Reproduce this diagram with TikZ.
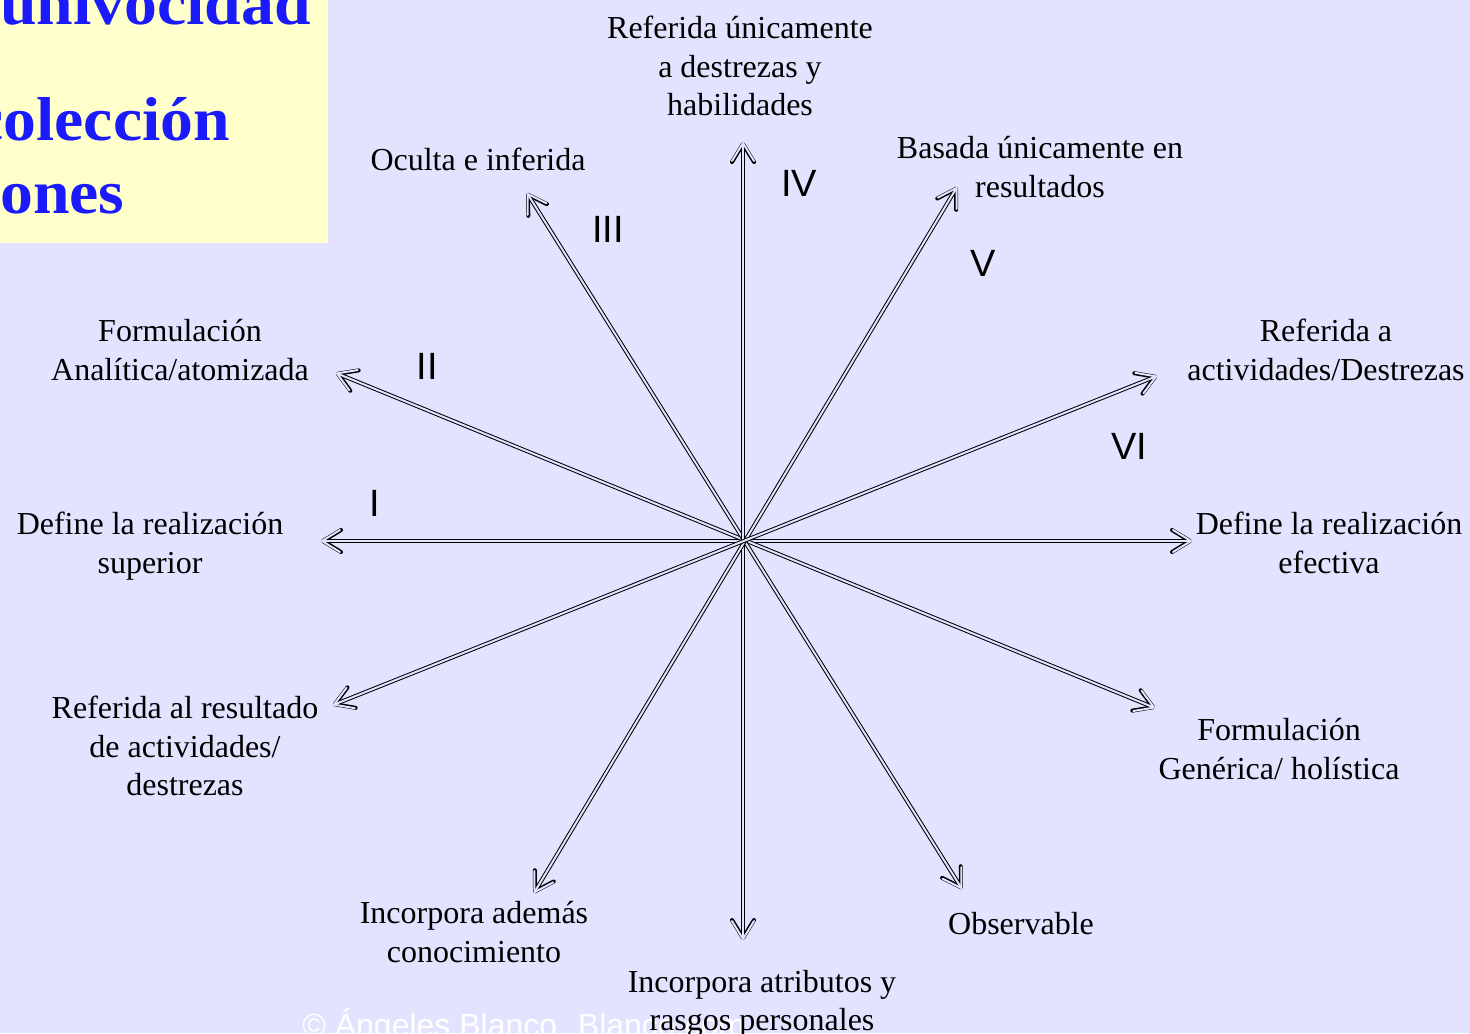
\documentclass[tikz,border=0pt]{standalone}
\usepackage{fontspec}
\setmainfont{Liberation Serif}
\newfontfamily\numfont{Liberation Sans}
\newfontfamily\titlefont[FakeStretch=1.06]{Liberation Serif}
\usetikzlibrary{arrows.meta}
\usetikzlibrary{positioning}
\definecolor{lavender}{RGB}{227,227,255}
\definecolor{paleyellow}{RGB}{255,255,204}
\definecolor{titleblue}{RGB}{26,26,250}

\begin{document}
\begin{tikzpicture}[x=0.5pt,y=-0.5pt]

    % slide background, fixes the size
    \fill[lavender] (0,0) rectangle (1470,1033);
    \useasboundingbox (0,0) rectangle (1470,1033);

    % title box, cut at the left and top edge
    \begin{scope}
    \clip (0,0) rectangle (328,243);
    \fill[paleyellow] (0,0) rectangle (328,243);
    \begin{scope}[every node/.style={anchor=base west,inner sep=0pt,text=titleblue,
                  font=\titlefont\fontsize{31}{36}\selectfont\bfseries}]
    \node (t1) at (0,25) {univocidad};
    \node (t2) at (-26,140) {colección};
    \node (t3) at (0,213) {ones};
    \end{scope}
    \end{scope}

    % ends of the six scales, use the tuple for location
    \coordinate (c) at (745,540);
    \coordinate (Ia) at (321,541);   \coordinate (Ib) at (1192,541);
    \coordinate (IIa) at (336,373);  \coordinate (IIb) at (1155,708);
    \coordinate (IIIa) at (527,193); \coordinate (IIIb) at (962,889);
    \coordinate (IVa) at (743,142);  \coordinate (IVb) at (743,940);
    \coordinate (Va) at (957,187);   \coordinate (Vb) at (534,893);
    \coordinate (VIa) at (1157,376); \coordinate (VIb) at (333,705);

    % watermark, under the labels
    \node[anchor=base west,inner sep=0pt,text=white,font=\numfont\fontsize{16}{19}\selectfont]
        (wm) at (302,1036) {© Ángeles Blanco. Blanco.com};

    % labels at the ends
    \begin{scope}[every node/.style={align=center,inner sep=0pt,
                  font=\fontsize{16}{19.25}\selectfont}]
    \node (supr) at (150,546) {Define la realización\\superior};
    \node (efec) at (1329,543) {Define la realización\\efectiva};
    \node (anal) at (180,350) {Formulación\\Analítica/atomizada};
    \node (gene) at (1279,749) {Formulación\\Genérica/ holística};
    \node (ocul) at (478,159) {Oculta e inferida};
    \node (obse) at (1021,924) {Observable};
    \node (dest) at (740,66) {Referida únicamente\\a destrezas y\\habilidades};
    \node (atri) at (762,1004) {Incorpora atributos y\\rasgos personales};
    \node (resu) at (1040,167) {Basada únicamente en\\resultados};
    \node (cono) at (474,932) {Incorpora además\\conocimiento};
    \node (acti) at (1326,350) {Referida a\\actividades/Destrezas};
    \node (rdes) at (185,746) {Referida al resultado\\de actividades/\\destrezas};
    \end{scope}

    % roman numbers of the scales
    \begin{scope}[every node/.style={inner sep=0pt,font=\numfont\fontsize{19}{22}\selectfont}]
    \node (nI) at (375,503) {I};
    \node (nII) at (427,366) {II};
    \node (nIII) at (608,229) {III};
    \node (nIV) at (799,183) {IV};
    \node (nV) at (983,263) {V};
    \node (nVI) at (1129,446) {VI};
    \end{scope}

    % scales: black stroke, then a light one inside it
    \begin{scope}[>={Straight Barb[length=9pt,width=11pt,round]},
              scaleout/.style={draw=black, line width=2pt},
              scalein/.style={draw=lavender, line width=1pt}]
    \path [<->] (Ia) edge[scaleout] (Ib) edge[scalein] (Ib);
    \path [<->] (IIa) edge[scaleout] (IIb) edge[scalein] (IIb);
    \path [<->] (IIIa) edge[scaleout] (IIIb) edge[scalein] (IIIb);
    \path [<->] (IVa) edge[scaleout] (IVb) edge[scalein] (IVb);
    \path [<->] (Va) edge[scaleout] (Vb) edge[scalein] (Vb);
    \path [<->] (VIa) edge[scaleout] (VIb) edge[scalein] (VIb);
    \end{scope}

\end{tikzpicture}
\end{document}
